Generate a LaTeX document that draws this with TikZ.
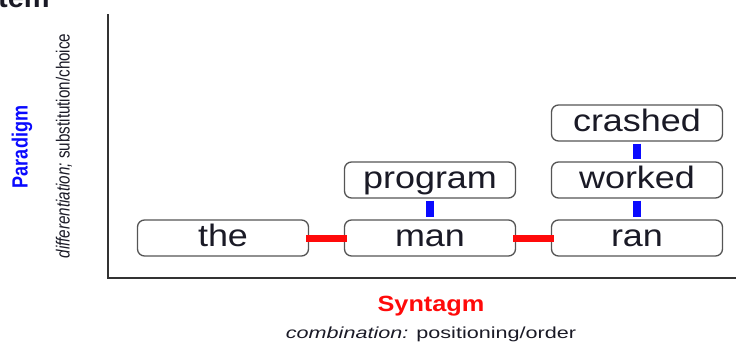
\documentclass[tikz,border=0pt]{standalone}
\usepackage{fontspec}
\setmainfont{Liberation Sans}
\newfontfamily\wordfont[FakeStretch=1.16]{Liberation Sans}
\newfontfamily\paradfont[FakeStretch=0.82]{Liberation Sans}
\newfontfamily\difffont[FakeStretch=0.8]{Liberation Sans}
\newfontfamily\syntfont[FakeStretch=1.15]{Liberation Sans}
\newfontfamily\combfont[FakeStretch=1.35]{Liberation Sans}
\definecolor{boxline}{HTML}{555555}
\definecolor{wordcol}{HTML}{1A1A26}
\definecolor{parablue}{HTML}{0A0AFF}
\definecolor{synred}{HTML}{FF0A0A}
\definecolor{axiscol}{HTML}{333333}
\begin{document}
\begin{tikzpicture}[x=1pt,y=-1pt,
  wordbox/.style={draw=boxline,line width=1.3pt,rounded corners=7pt,fill=white,
    minimum width=171pt,minimum height=36pt,inner sep=0pt,
    text height=22pt,text depth=4.6pt,text=wordcol,
    font=\wordfont\fontsize{31}{31}\selectfont},
  synlink/.style={draw=synred,line width=7pt},
  paralink/.style={draw=parablue,line width=8pt}]
\useasboundingbox (0,0) rectangle (736,343);
\clip (0,0) rectangle (736,343);
% partial title at top
\node[anchor=base west,inner sep=0pt,text=wordcol,font=\bfseries\fontsize{29}{29}\selectfont] (title) at (-2,7) {tem};
% axes
\coordinate (axtop) at (108,14);
\coordinate (axorigin) at (108,278);
\coordinate (axright) at (736,278);
\draw[axiscol,line width=2pt] (axtop) -- (axorigin) -- (axright);
% nodes
\node[wordbox] (the) at (223,238) {the};
\node[wordbox] (man) at (430,238) {man};
\node[wordbox] (ran) at (637,238) {ran};
\node[wordbox] (program) at (430,180) {program};
\node[wordbox] (worked) at (637,180) {worked};
\node[wordbox] (crashed) at (637,123) {crashed};
% links
\draw[synlink] ([xshift=-3pt]the.east) -- ([xshift=3pt]man.west);
\draw[synlink] ([xshift=-3pt]man.east) -- ([xshift=3pt]ran.west);
\draw[paralink] ([yshift=-2pt]program.south) -- ([yshift=2pt]man.north);
\draw[paralink] ([yshift=-2pt]worked.south) -- ([yshift=2pt]ran.north);
\draw[paralink] ([yshift=-2pt]crashed.south) -- ([yshift=2pt]worked.north);
% axis labels
\node[rotate=90,inner sep=0pt,text=parablue,font=\paradfont\bfseries\fontsize{22}{22}\selectfont] (paradigm) at (22,147) {Paradigm};
\node[rotate=90,inner sep=0pt,text=wordcol,font=\difffont\fontsize{19}{19}\selectfont] (diff) at (64,146) {\textit{differentiation;} substitution/choice};
\node[inner sep=0pt,text=synred,font=\syntfont\bfseries\fontsize{22}{22}\selectfont] (syntagm) at (431,306) {Syntagm};
\node[inner sep=0pt,text=wordcol,font=\combfont\fontsize{16}{16}\selectfont] (comb) at (431,334) {\textit{combination:} positioning/order};
\end{tikzpicture}
\end{document}
